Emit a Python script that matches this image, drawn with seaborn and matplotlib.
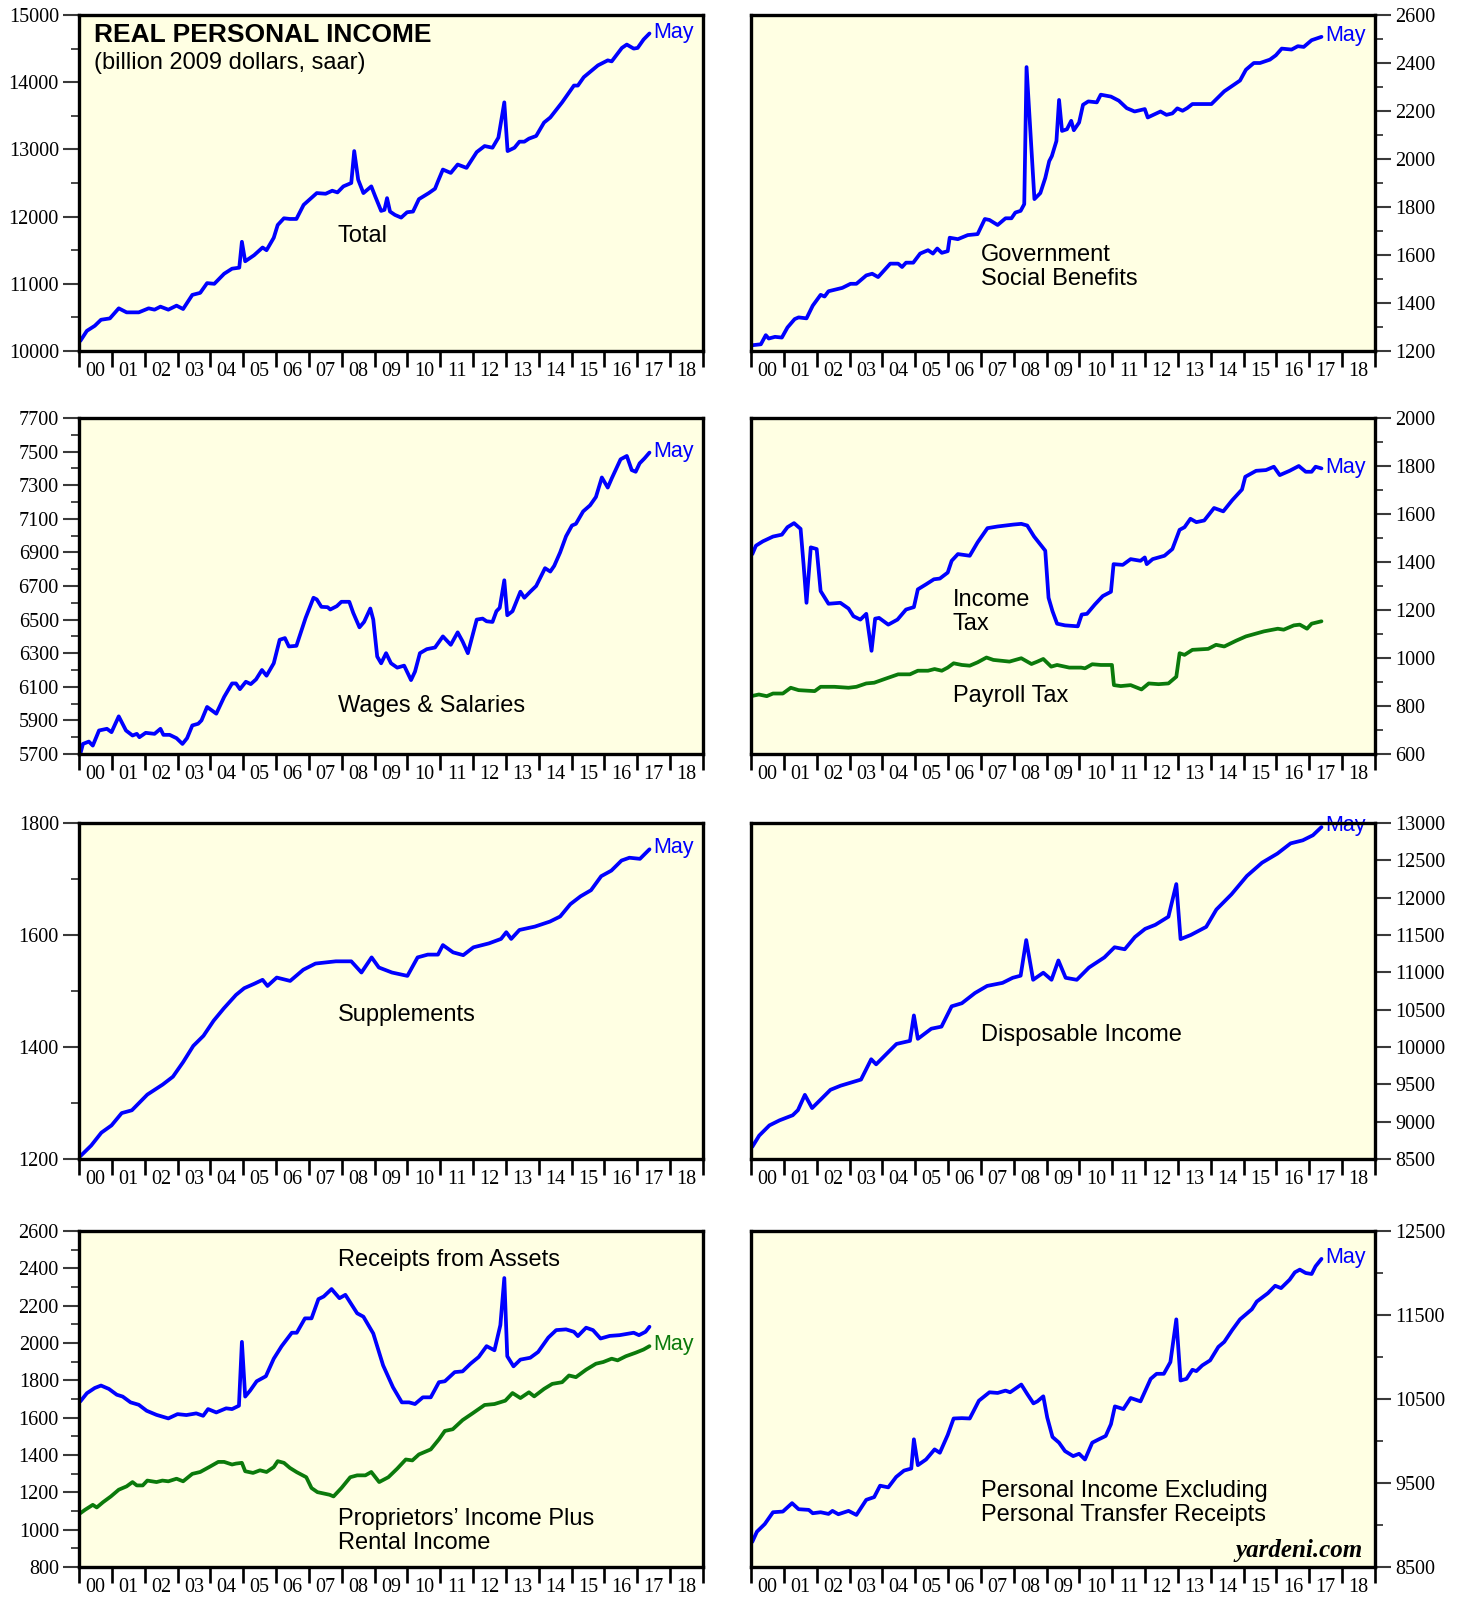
import numpy as np
import pandas as pd
import matplotlib
matplotlib.use("Agg")
import matplotlib.pyplot as plt
import seaborn as sns

sns.set_style("ticks")
plt.rcParams['font.family'] = ['Liberation Sans', 'DejaVu Sans']
plt.rcParams['text.color'] = 'black'
plt.rcParams['xtick.labelcolor'] = 'black'
plt.rcParams['ytick.labelcolor'] = 'black'
SERIF = ['Liberation Serif', 'DejaVu Serif']

BLUE = '#0000FF'
GREEN = '#0B7A0B'
BG = '#FFFFE3'

# ---------------- data (time in years since Jan 2000, values in billion 2009 $) ----------------
TOTAL_T = [0.04, 0.24, 0.48, 0.67, 0.94, 1.21, 1.45, 1.82, 2.12, 2.30,
           2.48, 2.72, 2.97, 3.17, 3.45, 3.69, 3.90, 4.12, 4.42, 4.66,
           4.88, 4.96, 5.06, 5.33, 5.59, 5.71, 5.93, 6.05, 6.24, 6.42,
           6.62, 6.84, 7.24, 7.51, 7.71, 7.87, 8.05, 8.29, 8.38, 8.50,
           8.66, 8.90, 9.02, 9.20, 9.30, 9.38, 9.47, 9.62, 9.81, 9.99,
           10.17, 10.35, 10.65, 10.84, 10.93, 11.08, 11.32, 11.53, 11.80, 12.11,
           12.35, 12.59, 12.77, 12.95, 13.05, 13.26, 13.41, 13.56, 13.70, 13.92,
           14.16, 14.35, 14.71, 15.07, 15.19, 15.37, 15.80, 16.10, 16.22, 16.53,
           16.68, 16.89, 17.01, 17.19, 17.37]
TOTAL_V = [10150, 10300, 10375, 10465, 10485, 10635, 10575, 10575, 10635, 10615,
           10660, 10615, 10675, 10625, 10835, 10865, 11010, 11000, 11150, 11225,
           11240, 11625, 11335, 11425, 11540, 11500, 11685, 11875, 11975, 11965,
           11965, 12175, 12350, 12340, 12385, 12360, 12450, 12500, 12975, 12550,
           12350, 12450, 12300, 12085, 12100, 12275, 12075, 12025, 11985, 12065,
           12075, 12260, 12350, 12415, 12525, 12700, 12650, 12775, 12725, 12960,
           13050, 13025, 13175, 13700, 12975, 13025, 13115, 13115, 13160, 13200,
           13400, 13475, 13700, 13950, 13950, 14075, 14250, 14325, 14310, 14510,
           14560, 14500, 14510, 14635, 14725]

GOV_T = [0.04, 0.30, 0.45, 0.54, 0.73, 0.94, 1.11, 1.33, 1.45, 1.69,
         1.88, 2.12, 2.24, 2.36, 2.78, 3.03, 3.21, 3.51, 3.69, 3.87,
         4.24, 4.48, 4.60, 4.72, 4.94, 5.15, 5.39, 5.54, 5.67, 5.81,
         5.99, 6.05, 6.30, 6.60, 6.90, 7.12, 7.26, 7.51, 7.75, 7.93,
         8.05, 8.21, 8.32, 8.39, 8.63, 8.81, 8.96, 9.08, 9.16, 9.30,
         9.38, 9.47, 9.62, 9.75, 9.83, 9.99, 10.11, 10.27, 10.53, 10.65,
         10.96, 11.20, 11.44, 11.68, 11.99, 12.08, 12.47, 12.65, 12.83, 12.98,
         13.14, 13.28, 13.44, 14.02, 14.41, 14.71, 14.89, 15.07, 15.31, 15.50,
         15.80, 15.98, 16.16, 16.46, 16.65, 16.83, 17.07, 17.37]
GOV_V = [1224, 1228, 1266, 1252, 1259, 1256, 1298, 1333, 1340, 1336,
         1389, 1434, 1427, 1449, 1463, 1480, 1480, 1515, 1522, 1508,
         1564, 1564, 1550, 1568, 1568, 1606, 1620, 1606, 1627, 1609,
         1616, 1672, 1666, 1683, 1687, 1750, 1746, 1725, 1753, 1753,
         1777, 1784, 1812, 2383, 1833, 1858, 1921, 1991, 2012, 2075,
         2246, 2117, 2124, 2159, 2120, 2152, 2226, 2240, 2236, 2268,
         2260, 2243, 2212, 2198, 2208, 2173, 2198, 2184, 2190, 2211,
         2201, 2212, 2229, 2229, 2282, 2310, 2327, 2372, 2400, 2400,
         2414, 2432, 2460, 2456, 2470, 2467, 2495, 2509]

WAGES_T = [0.04, 0.12, 0.30, 0.42, 0.61, 0.85, 0.99, 1.21, 1.43, 1.63,
           1.76, 1.84, 2.03, 2.30, 2.48, 2.57, 2.76, 2.97, 3.15, 3.29,
           3.45, 3.63, 3.73, 3.90, 4.18, 4.42, 4.66, 4.78, 4.90, 5.08,
           5.23, 5.39, 5.57, 5.71, 5.93, 6.11, 6.27, 6.39, 6.62, 6.90,
           7.14, 7.24, 7.38, 7.57, 7.65, 7.85, 7.99, 8.23, 8.35, 8.54,
           8.68, 8.87, 8.96, 9.08, 9.20, 9.35, 9.50, 9.69, 9.90, 10.11,
           10.23, 10.38, 10.59, 10.84, 11.08, 11.32, 11.53, 11.68, 11.84, 12.11,
           12.29, 12.41, 12.59, 12.71, 12.81, 12.95, 13.04, 13.20, 13.44, 13.56,
           13.74, 13.92, 14.19, 14.35, 14.47, 14.65, 14.83, 15.01, 15.13, 15.35,
           15.56, 15.74, 15.92, 16.10, 16.22, 16.49, 16.68, 16.83, 16.95, 17.07,
           17.22, 17.37]
WAGES_V = [5700, 5760, 5774, 5750, 5840, 5850, 5830, 5924, 5840, 5810,
           5820, 5800, 5826, 5820, 5850, 5814, 5814, 5794, 5760, 5794,
           5870, 5880, 5900, 5980, 5940, 6040, 6120, 6120, 6086, 6130,
           6116, 6144, 6200, 6166, 6240, 6380, 6390, 6340, 6344, 6510,
           6630, 6620, 6576, 6574, 6560, 6580, 6606, 6606, 6540, 6454,
           6486, 6566, 6500, 6280, 6240, 6300, 6240, 6214, 6226, 6140,
           6190, 6300, 6324, 6334, 6400, 6350, 6424, 6370, 6300, 6500,
           6506, 6490, 6486, 6550, 6570, 6734, 6526, 6550, 6666, 6630,
           6666, 6700, 6806, 6786, 6820, 6900, 6996, 7060, 7070, 7144,
           7180, 7230, 7346, 7286, 7340, 7454, 7474, 7390, 7380, 7430,
           7460, 7494]

INCTAX_T = [0.04, 0.15, 0.36, 0.67, 0.94, 1.11, 1.31, 1.51, 1.60, 1.69,
            1.82, 2.00, 2.12, 2.36, 2.72, 2.97, 3.12, 3.33, 3.51, 3.60,
            3.67, 3.78, 3.90, 4.18, 4.46, 4.72, 4.96, 5.08, 5.33, 5.57,
            5.75, 5.99, 6.11, 6.30, 6.66, 6.90, 7.20, 7.51, 7.99, 8.23,
            8.41, 8.62, 8.84, 8.96, 9.06, 9.18, 9.32, 9.56, 9.95, 10.07,
            10.23, 10.47, 10.71, 10.96, 11.04, 11.32, 11.56, 11.86, 11.99, 12.05,
            12.23, 12.59, 12.83, 13.05, 13.20, 13.38, 13.56, 13.80, 14.10, 14.38,
            14.65, 14.95, 15.05, 15.38, 15.68, 15.92, 16.10, 16.40, 16.68, 16.89,
            17.07, 17.19, 17.37]
INCTAX_V = [1433, 1468, 1486, 1506, 1514, 1545, 1562, 1538, 1391, 1230,
            1461, 1454, 1279, 1226, 1230, 1206, 1174, 1160, 1184, 1097,
            1030, 1164, 1167, 1139, 1160, 1202, 1212, 1286, 1307, 1328,
            1331, 1356, 1405, 1433, 1426, 1482, 1541, 1548, 1556, 1559,
            1552, 1506, 1468, 1447, 1251, 1195, 1143, 1136, 1132, 1181,
            1184, 1223, 1258, 1276, 1391, 1388, 1412, 1405, 1419, 1391,
            1412, 1426, 1454, 1534, 1545, 1580, 1566, 1573, 1625, 1611,
            1657, 1702, 1755, 1780, 1783, 1797, 1762, 1780, 1800, 1776,
            1776, 1797, 1790]

PAYROLL_T = [0.04, 0.24, 0.48, 0.67, 0.97, 1.21, 1.45, 1.94, 2.12, 2.54,
             2.97, 3.21, 3.51, 3.75, 4.06, 4.48, 4.84, 5.08, 5.39, 5.59,
             5.81, 5.99, 6.17, 6.42, 6.66, 6.90, 7.17, 7.38, 7.87, 8.23,
             8.54, 8.72, 8.90, 9.14, 9.32, 9.69, 10.05, 10.17, 10.39, 10.65,
             10.99, 11.05, 11.26, 11.56, 11.89, 12.11, 12.41, 12.71, 12.95, 13.05,
             13.20, 13.44, 13.92, 14.16, 14.41, 14.77, 15.07, 15.62, 16.04, 16.22,
             16.53, 16.71, 16.93, 17.07, 17.37]
PAYROLL_V = [842, 848, 841, 852, 852, 876, 866, 862, 880, 880,
             876, 880, 894, 897, 912, 932, 932, 947, 947, 954,
             947, 960, 978, 971, 968, 982, 1002, 992, 985, 999,
             975, 985, 996, 964, 971, 960, 960, 957, 974, 971,
             971, 887, 883, 887, 869, 894, 891, 894, 922, 1020,
             1013, 1034, 1038, 1055, 1048, 1072, 1090, 1111, 1122, 1118,
             1136, 1139, 1122, 1143, 1153]

SUPPL_T = [0.04, 0.37, 0.68, 0.99, 1.30, 1.61, 2.08, 2.55, 2.86, 3.17,
           3.48, 3.79, 4.10, 4.41, 4.78, 5.03, 5.34, 5.59, 5.74, 6.02,
           6.43, 6.83, 7.20, 7.82, 8.29, 8.60, 8.91, 9.13, 9.53, 10.00,
           10.31, 10.62, 10.93, 11.08, 11.39, 11.70, 12.01, 12.48, 12.85, 13.01,
           13.16, 13.41, 13.88, 14.34, 14.65, 14.96, 15.27, 15.59, 15.90, 16.21,
           16.52, 16.76, 17.08, 17.37]
SUPPL_V = [1205, 1224, 1247, 1260, 1282, 1287, 1315, 1333, 1347, 1373,
           1402, 1420, 1447, 1469, 1493, 1505, 1513, 1520, 1509, 1524,
           1518, 1538, 1549, 1553, 1553, 1533, 1560, 1542, 1533, 1527,
           1560, 1565, 1565, 1582, 1569, 1564, 1578, 1585, 1593, 1605,
           1593, 1609, 1615, 1624, 1633, 1655, 1669, 1680, 1705, 1715,
           1733, 1738, 1736, 1753]

DISP_T = [0.04, 0.25, 0.56, 0.87, 1.27, 1.43, 1.64, 1.86, 2.11, 2.42,
          2.73, 3.04, 3.35, 3.66, 3.81, 4.12, 4.43, 4.84, 4.96, 5.08,
          5.49, 5.80, 6.11, 6.42, 6.82, 7.19, 7.66, 7.97, 8.21, 8.38,
          8.59, 8.90, 9.15, 9.36, 9.58, 9.92, 10.29, 10.76, 11.07, 11.38,
          11.69, 12.00, 12.31, 12.71, 12.95, 13.08, 13.39, 13.86, 14.17, 14.63,
          15.10, 15.56, 16.03, 16.43, 16.80, 17.11, 17.37]
DISP_V = [8664, 8814, 8950, 9018, 9086, 9155, 9359, 9182, 9291, 9427,
          9482, 9523, 9564, 9836, 9768, 9905, 10041, 10082, 10423, 10109,
          10245, 10273, 10545, 10586, 10723, 10818, 10859, 10927, 10955, 11432,
          10900, 10995, 10900, 11159, 10927, 10900, 11064, 11200, 11336, 11309,
          11473, 11582, 11636, 11745, 12182, 11445, 11500, 11609, 11841, 12045,
          12291, 12468, 12591, 12727, 12768, 12836, 12945]

ASSETS_T = [0.04, 0.24, 0.48, 0.67, 0.91, 1.15, 1.33, 1.57, 1.82, 2.06,
            2.36, 2.72, 3.00, 3.27, 3.57, 3.78, 3.93, 4.18, 4.48, 4.66,
            4.87, 4.96, 5.06, 5.21, 5.41, 5.69, 5.93, 6.17, 6.48, 6.63,
            6.88, 7.08, 7.29, 7.45, 7.69, 7.93, 8.11, 8.47, 8.66, 8.96,
            9.26, 9.56, 9.83, 10.05, 10.23, 10.47, 10.71, 10.96, 11.14, 11.44,
            11.68, 11.92, 12.17, 12.41, 12.65, 12.83, 12.95, 13.04, 13.23, 13.44,
            13.74, 13.98, 14.29, 14.53, 14.83, 15.07, 15.19, 15.44, 15.65, 15.88,
            16.16, 16.46, 16.89, 17.05, 17.25, 17.37]
ASSETS_V = [1687, 1731, 1759, 1772, 1754, 1723, 1713, 1682, 1669, 1637,
            1615, 1596, 1619, 1614, 1623, 1610, 1646, 1628, 1650, 1646,
            1664, 2006, 1713, 1745, 1795, 1822, 1916, 1983, 2055, 2055,
            2132, 2132, 2235, 2249, 2289, 2240, 2258, 2159, 2141, 2051,
            1880, 1763, 1682, 1682, 1673, 1709, 1709, 1790, 1795, 1844,
            1848, 1889, 1925, 1983, 1961, 2096, 2348, 1929, 1875, 1911,
            1921, 1952, 2029, 2069, 2073, 2060, 2037, 2082, 2069, 2024,
            2038, 2042, 2055, 2042, 2060, 2087]

PROP_T = [0.04, 0.18, 0.42, 0.54, 0.73, 0.97, 1.21, 1.45, 1.63, 1.76,
          1.94, 2.08, 2.36, 2.54, 2.72, 2.97, 3.17, 3.45, 3.69, 3.97,
          4.24, 4.42, 4.66, 4.78, 4.96, 5.06, 5.30, 5.51, 5.71, 5.93,
          6.05, 6.24, 6.42, 6.63, 6.92, 7.08, 7.26, 7.63, 7.75, 7.99,
          8.26, 8.47, 8.72, 8.90, 9.14, 9.42, 9.69, 9.95, 10.15, 10.35,
          10.71, 10.96, 11.14, 11.38, 11.68, 11.99, 12.35, 12.65, 12.98, 13.20,
          13.44, 13.70, 13.86, 14.16, 14.41, 14.71, 14.92, 15.13, 15.44, 15.74,
          15.96, 16.22, 16.40, 16.65, 16.95, 17.19, 17.37]
PROP_V = [1088, 1106, 1133, 1119, 1147, 1178, 1214, 1232, 1255, 1237,
          1237, 1263, 1255, 1263, 1259, 1273, 1259, 1299, 1309, 1336,
          1363, 1363, 1349, 1354, 1358, 1313, 1304, 1318, 1309, 1335,
          1367, 1358, 1331, 1308, 1281, 1223, 1201, 1187, 1178, 1223,
          1281, 1291, 1291, 1309, 1255, 1281, 1327, 1376, 1371, 1403,
          1430, 1484, 1529, 1538, 1587, 1624, 1668, 1673, 1691, 1732,
          1705, 1736, 1714, 1754, 1781, 1790, 1826, 1817, 1857, 1889,
          1898, 1916, 1907, 1929, 1948, 1965, 1983]

PIEX_T = [0.04, 0.18, 0.42, 0.67, 0.97, 1.25, 1.45, 1.76, 1.88, 2.12,
          2.36, 2.48, 2.66, 2.97, 3.21, 3.51, 3.75, 3.93, 4.18, 4.42,
          4.66, 4.88, 4.96, 5.08, 5.33, 5.59, 5.75, 5.99, 6.17, 6.42,
          6.66, 6.94, 7.26, 7.51, 7.75, 7.89, 8.23, 8.41, 8.60, 8.72,
          8.90, 9.02, 9.18, 9.38, 9.56, 9.81, 9.99, 10.17, 10.39, 10.59,
          10.80, 10.96, 11.08, 11.34, 11.56, 11.86, 12.17, 12.35, 12.57, 12.77,
          12.95, 13.08, 13.26, 13.44, 13.56, 13.74, 13.98, 14.23, 14.41, 14.65,
          14.89, 15.13, 15.25, 15.40, 15.74, 15.96, 16.14, 16.40, 16.56, 16.71,
          16.89, 17.07, 17.19, 17.37]
PIEX_V = [8800, 8920, 9012, 9152, 9160, 9260, 9188, 9180, 9140, 9152,
          9132, 9168, 9128, 9168, 9120, 9300, 9332, 9468, 9448, 9572,
          9648, 9672, 10020, 9712, 9780, 9900, 9860, 10072, 10268, 10272,
          10268, 10480, 10580, 10572, 10600, 10580, 10672, 10560, 10448, 10472,
          10532, 10280, 10048, 9980, 9880, 9820, 9848, 9780, 9980, 10020,
          10060, 10200, 10412, 10380, 10512, 10472, 10740, 10800, 10800, 10940,
          11448, 10720, 10740, 10848, 10832, 10900, 10960, 11120, 11180, 11320,
          11448, 11528, 11568, 11660, 11760, 11848, 11820, 11920, 12008, 12040,
          12000, 11988, 12080, 12168]

YEAR_LABELS = [f"{y % 100:02d}" for y in range(2000, 2019)]

# ---------------- layout ----------------
W, H = 1468, 1597
fig = plt.figure(figsize=(W / 100, H / 100), dpi=100)
fig.patch.set_facecolor('white')

LEFT_X, RIGHT_X, PW = 79, 751, 624
ROW_TOP = [15, 418, 823, 1231]
PH = 336
TXT = 17
MAYSZ = 15.5


def rect(col_x, row):
    top = ROW_TOP[row]
    return [col_x / W, 1 - (top + PH) / H, PW / W, PH / H]


def setup(ax, ylim, majors, minors, side, labels=None, major_len=11.5):
    ax.set_facecolor(BG)
    ax.set_xlim(2000, 2019)
    ax.set_ylim(*ylim)
    ax.set_xlabel('')
    ax.set_ylabel('')
    for sp in ax.spines.values():
        sp.set_visible(True)
        sp.set_linewidth(2.4)
        sp.set_color('black')
        sp.set_zorder(6)
    years = np.arange(2000, 2020)
    ax.set_xticks(years)
    ax.set_xticklabels([''] * len(years))
    ax.set_xticks(years[:-1] + 0.5, minor=True)
    ax.set_xticklabels(YEAR_LABELS, minor=True, fontfamily=SERIF, fontsize=14.5)
    ax.tick_params(axis='x', which='major', direction='out', length=11.5, width=1.9,
                   color='black', bottom=True, top=False)
    ax.tick_params(axis='x', which='minor', length=0, pad=8, bottom=True, top=False,
                   labelcolor='black')
    ax.set_yticks(majors)
    if labels is None:
        labels = [str(v) for v in majors]
    ax.set_yticklabels(labels, fontfamily=SERIF, fontsize=14.5)
    ax.set_yticks(minors, minor=True)
    ax.tick_params(axis='y', which='major', direction='out', length=major_len, width=1.5,
                   color='#3a3a3a', pad=3, labelcolor='black')
    ax.tick_params(axis='y', which='minor', direction='out', length=5.5, width=1.3,
                   color='#3a3a3a')
    if side == 'right':
        ax.tick_params(axis='y', which='both', left=False, labelleft=False,
                       right=True, labelright=True)
    else:
        ax.tick_params(axis='y', which='both', left=True, labelleft=True,
                       right=False, labelright=False)


def draw(ax, t, v, color):
    df = pd.DataFrame({'date': 2000 + np.asarray(t, dtype=float), 'value': v})
    sns.lineplot(data=df, x='date', y='value', ax=ax, color=color, linewidth=2.7,
                 estimator=None, sort=False, legend=False, zorder=4)
    return df


def may(ax, df, color):
    ax.annotate('May', xy=(df['date'].iloc[-1], df['value'].iloc[-1]), xytext=(3, 1),
                textcoords='offset points', color=color, fontsize=MAYSZ, va='center',
                ha='left', annotation_clip=False)


def label(ax, x, y, s, **kw):
    ax.text(x, y, s, transform=ax.transAxes, fontsize=TXT, color='black',
            va='center', ha='left', **kw)


# Panel 1: Total
ax = fig.add_axes(rect(LEFT_X, 0))
d = draw(ax, TOTAL_T, TOTAL_V, BLUE)
setup(ax, (10000, 15000), np.arange(10000, 15001, 1000), np.arange(10500, 15000, 1000), 'left')
may(ax, d, BLUE)
ax.text(0.024, 0.940, 'REAL PERSONAL INCOME', transform=ax.transAxes, fontsize=19,
        fontweight='bold', color='black', va='center', ha='left')
label(ax, 0.024, 0.857, '(billion 2009 dollars, saar)')
label(ax, 0.415, 0.341, 'Total')

# Panel 2: Government Social Benefits
ax = fig.add_axes(rect(RIGHT_X, 0))
d = draw(ax, GOV_T, GOV_V, BLUE)
setup(ax, (1200, 2600), np.arange(1200, 2601, 200), np.arange(1300, 2600, 200), 'right')
may(ax, d, BLUE)
label(ax, 0.369, 0.285, 'Government')
label(ax, 0.369, 0.213, 'Social Benefits')

# Panel 3: Wages & Salaries
ax = fig.add_axes(rect(LEFT_X, 1))
d = draw(ax, WAGES_T, WAGES_V, BLUE)
setup(ax, (5700, 7700), np.arange(5700, 7701, 200), np.arange(5800, 7700, 200), 'left')
may(ax, d, BLUE)
label(ax, 0.415, 0.143, 'Wages & Salaries')

# Panel 4: Income Tax / Payroll Tax
ax = fig.add_axes(rect(RIGHT_X, 1))
d = draw(ax, INCTAX_T, INCTAX_V, BLUE)
draw(ax, PAYROLL_T, PAYROLL_V, GREEN)
setup(ax, (600, 2000), np.arange(600, 2001, 200), np.arange(700, 2000, 200), 'right')
may(ax, d, BLUE)
label(ax, 0.323, 0.458, 'Income')
label(ax, 0.323, 0.388, 'Tax')
label(ax, 0.323, 0.173, 'Payroll Tax')

# Panel 5: Supplements
ax = fig.add_axes(rect(LEFT_X, 2))
d = draw(ax, SUPPL_T, SUPPL_V, BLUE)
setup(ax, (1200, 1800), np.arange(1200, 1801, 200), np.arange(1300, 1800, 200), 'left')
may(ax, d, BLUE)
label(ax, 0.415, 0.43, 'Supplements')

# Panel 6: Disposable Income
ax = fig.add_axes(rect(RIGHT_X, 2))
d = draw(ax, DISP_T, DISP_V, BLUE)
setup(ax, (8500, 13000), np.arange(8500, 13001, 500), [], 'right')
may(ax, d, BLUE)
label(ax, 0.369, 0.369, 'Disposable Income')

# Panel 7: Receipts from Assets / Proprietors' + Rental
ax = fig.add_axes(rect(LEFT_X, 3))
draw(ax, ASSETS_T, ASSETS_V, BLUE)
d = draw(ax, PROP_T, PROP_V, GREEN)
setup(ax, (800, 2600), np.arange(800, 2601, 200), np.arange(900, 2600, 200), 'left')
may(ax, d, GREEN)
label(ax, 0.415, 0.914, 'Receipts from Assets')
label(ax, 0.415, 0.143, 'Proprietors\u2019 Income Plus')
label(ax, 0.415, 0.071, 'Rental Income')

# Panel 8: Personal Income Excluding Transfers
ax = fig.add_axes(rect(RIGHT_X, 3))
d = draw(ax, PIEX_T, PIEX_V, BLUE)
setup(ax, (8500, 12500), np.arange(8500, 12501, 1000), np.arange(9000, 12500, 1000), 'right')
may(ax, d, BLUE)
label(ax, 0.369, 0.226, 'Personal Income Excluding')
label(ax, 0.369, 0.155, 'Personal Transfer Receipts')
ax.text(0.981, 0.048, 'yardeni.com', transform=ax.transAxes, fontsize=18, color='black',
        fontfamily=SERIF, fontstyle='italic', fontweight='bold', va='center', ha='right')

fig.savefig('out.png', dpi=100, facecolor='white')
